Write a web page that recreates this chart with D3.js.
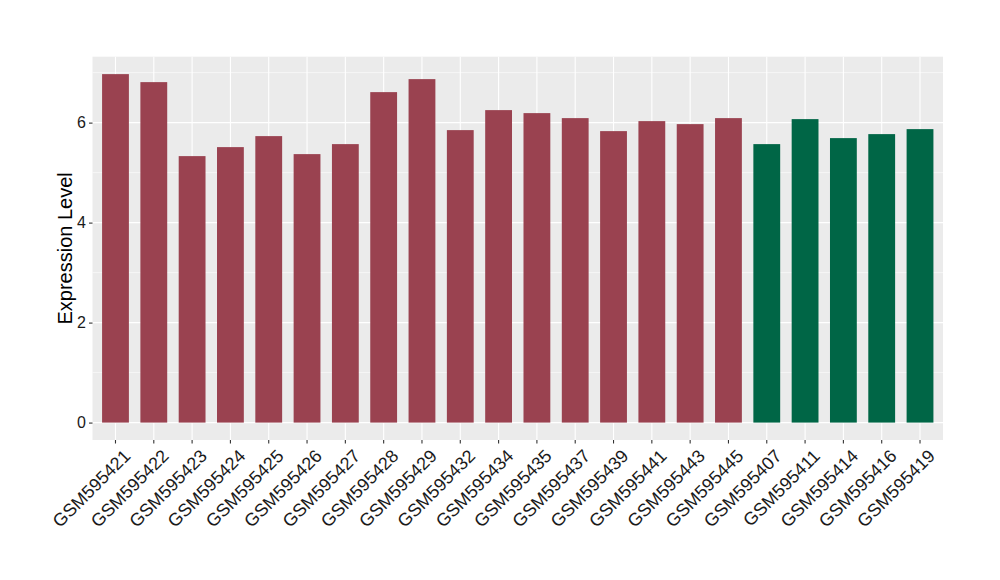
<!DOCTYPE html>
<html><head><meta charset="utf-8">
<script src="https://cdn.jsdelivr.net/npm/d3@7"></script>
<style>body{margin:0;background:#fff}svg{display:block}text{font-family:"Liberation Sans",Arial,sans-serif}</style>
</head><body><svg id="c" width="1000" height="580"></svg>
<script>
const samples = ["GSM595421","GSM595422","GSM595423","GSM595424","GSM595425","GSM595426","GSM595427","GSM595428","GSM595429","GSM595432","GSM595434","GSM595435","GSM595437","GSM595439","GSM595441","GSM595443","GSM595445","GSM595407","GSM595411","GSM595414","GSM595416","GSM595419"];
const values = [6.97,6.81,5.33,5.51,5.73,5.37,5.57,6.61,6.87,5.85,6.25,6.19,6.09,5.83,6.03,5.97,6.09,5.57,6.07,5.69,5.77,5.87];
const groups = ["A","A","A","A","A","A","A","A","A","A","A","A","A","A","A","A","A","B","B","B","B","B"];
const groupColors = {A:"#9A4250", B:"#006646"};
const yTicks = [0,2,4,6];
const yMinor = [1,3,5,7];

const svg = d3.select("#c");
const L = 92.5, R = 943, T = 56.7, B = 440;
const maxV = d3.max(values);
const ex = maxV*0.05;
const y = d3.scaleLinear().domain([-ex, maxV+ex]).range([B, T]);
const x = d3.scaleBand().domain(samples).range([L, R]).paddingInner(0.3).paddingOuter(0.25);

svg.append("rect").attr("x",L).attr("y",T).attr("width",R-L).attr("height",B-T).attr("fill","#EBEBEB");
const g = svg.append("g");
yMinor.filter(v=>y(v)>=T).forEach(v=>g.append("line").attr("x1",L).attr("x2",R).attr("y1",y(v)).attr("y2",y(v)).attr("stroke","#fff").attr("stroke-width",0.55));
yTicks.forEach(v=>g.append("line").attr("x1",L).attr("x2",R).attr("y1",y(v)).attr("y2",y(v)).attr("stroke","#fff").attr("stroke-width",1.1));
samples.forEach(s=>{const cx=x(s)+x.bandwidth()/2; g.append("line").attr("x1",cx).attr("x2",cx).attr("y1",T).attr("y2",B).attr("stroke","#fff").attr("stroke-width",1.1);});

svg.selectAll("rect.bar").data(samples).enter().append("rect").attr("class","bar")
  .attr("x",d=>x(d)).attr("width",x.bandwidth())
  .attr("y",(d,i)=>y(values[i])).attr("height",(d,i)=>y(0)-y(values[i]))
  .attr("fill",(d,i)=>groupColors[groups[i]]);

// y axis
const ya = svg.append("g").attr("transform",`translate(${L},0)`).call(d3.axisLeft(y).tickValues(yTicks).tickSize(3.5).tickPadding(3));
ya.select(".domain").remove();
ya.attr("font-size",null).attr("font-family",null);
ya.selectAll("line").attr("stroke","#333").attr("stroke-width",1.1);
ya.selectAll("text").style("font-size","16px").attr("fill","#1a1a1a");

// x axis
const xa = svg.append("g").attr("transform",`translate(0,${B})`).call(d3.axisBottom(x).tickSize(3.5).tickPadding(3));
xa.select(".domain").remove();
xa.attr("font-size",null).attr("font-family",null);
xa.selectAll("line").attr("stroke","#333").attr("stroke-width",1.1);
xa.selectAll("text").style("font-size","18px").attr("fill","#1a1a1a")
  .attr("text-anchor","end").attr("dy",null).attr("y",null)
  .attr("transform","translate(7,8) rotate(-45)").attr("dominant-baseline","hanging");

svg.append("text").attr("transform",`translate(72,${(T+B)/2}) rotate(-90)`).attr("text-anchor","middle")
  .style("font-size","20px").attr("fill","#000").text("Expression Level");
</script></body></html>
